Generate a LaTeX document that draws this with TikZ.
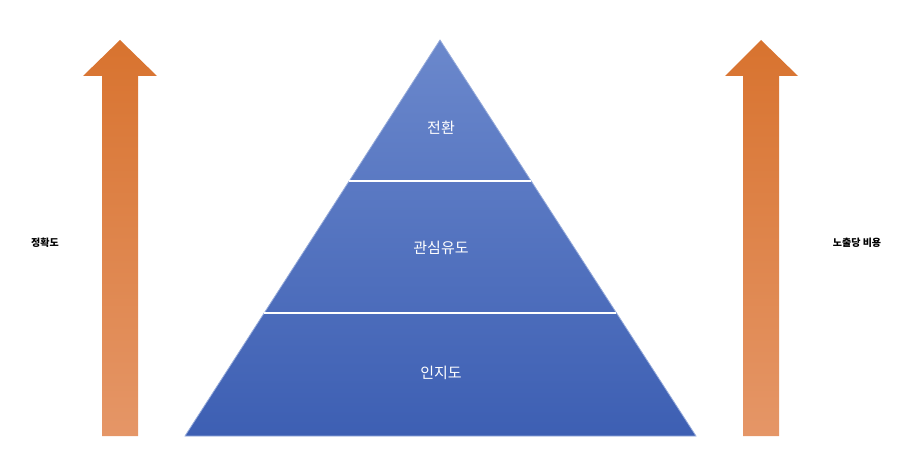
\documentclass[tikz,border=0pt]{standalone}
\usepackage{fontspec}
\usetikzlibrary{calc}
\newfontfamily\cjk{Noto Sans CJK KR}
\definecolor{orT}{HTML}{D8732F}
\definecolor{orB}{HTML}{E59667}
\definecolor{blT}{HTML}{6B88CC}
\definecolor{blB}{HTML}{3D5FB3}
\tikzset{tier/.style={text=white,font=\cjk\fontsize{15}{18}\selectfont},
side/.style={text=black,font=\cjk\bfseries\fontsize{10}{12}\selectfont},
uparrow/.style={top color=orT,bottom color=orB,draw=none}}
\begin{document}
\begin{tikzpicture}[x=1pt,y=-1pt]
\useasboundingbox (0,0) rectangle (902,476);
\shade[uparrow] (102,436) -- (102,76) -- (83,76) -- (120,40) -- (157,76) -- (138,76) -- (138,436) -- cycle;
\shade[uparrow] (743,436) -- (743,76) -- (725,76) -- (761,40) -- (798,76) -- (779,76) -- (779,436) -- cycle;
\coordinate (apex) at (440,40);
\coordinate (bl) at (185,436);
\coordinate (br) at (696,436);
\shade[top color=blT,bottom color=blB,draw=blT!70!white,line width=0.8pt] (apex) -- (br) -- (bl) -- cycle;
\coordinate (a1) at ($(apex)!0.356!(bl)$);
\coordinate (b1) at ($(apex)!0.356!(br)$);
\coordinate (a2) at ($(apex)!0.689!(bl)$);
\coordinate (b2) at ($(apex)!0.689!(br)$);
\draw[white,line width=1.6pt] (a1) -- (b1);
\draw[white,line width=1.6pt] (a2) -- (b2);
\node[tier] (t1) at (441,128) {전환};
\node[tier] (t2) at (441,248) {관심유도};
\node[tier] (t3) at (441,373) {인지도};
\node[side] (l) at (45,243) {정확도};
\node[side] (r) at (857,243) {노출당 비용};
\end{tikzpicture}
\end{document}
